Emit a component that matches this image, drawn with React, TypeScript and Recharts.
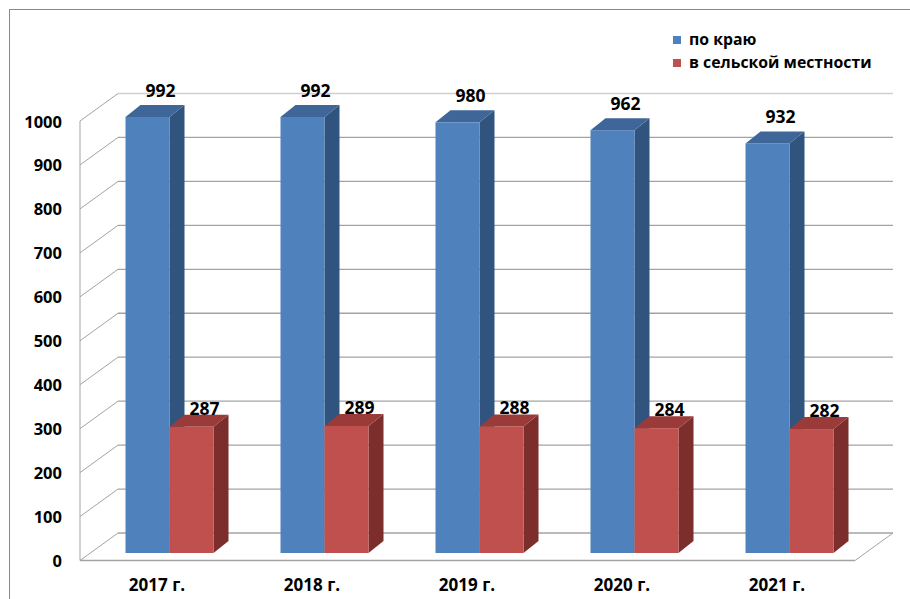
import React from 'react';
import { BarChart, Bar, XAxis, YAxis, CartesianGrid, LabelList, Legend } from 'recharts';

const categories = ['2017 г.', '2018 г.', '2019 г.', '2020 г.', '2021 г.'];
const regionValues = [992, 992, 980, 962, 932];
const ruralValues = [287, 289, 288, 284, 282];
const yTicks = [0, 100, 200, 300, 400, 500, 600, 700, 800, 900, 1000];
const seriesNames = ['по краю', 'в сельской местности'];

const data = categories.map((c, i) => ({ name: c, region: regionValues[i], rural: ruralValues[i] }));

const FONT = "'Open Sans', 'Noto Sans', sans-serif";
const W = 910;
const H = 599;
const PLOT_LEFT = 91.5;
const PLOT_RIGHT = 866.5;
const PLOT_TOP = 113.5;
const PLOT_BOTTOM = 553;
const WALL_FRONT_X = 80;
const WALL_BACK_X = 118;
const BACK_RIGHT_X = 893;
const FRONT_DY = 7.5;
const BACK_DY = -20;
const FLOOR_FRONT_RIGHT = 855;
const DEPTH_X = 15;
const DEPTH_Y = 12;
const GRID = '#A3A3A3';

const colors = {
  region: { front: '#4F81BD', top: '#3F6699', side: '#31547F' },
  rural: { front: '#C0504D', top: '#9A3B39', side: '#7B2E2C' },
};

const make3D = (c: { front: string; top: string; side: string }) => (props: any) => {
  const { x, y, width, height } = props;
  if (x == null || y == null) return null;
  const dx = DEPTH_X;
  const dy = DEPTH_Y;
  return (
    <g>
      <polygon points={`${x + width},${y} ${x + width + dx},${y - dy} ${x + width + dx},${y + height - dy} ${x + width},${y + height}`} fill={c.side} />
      <polygon points={`${x},${y} ${x + dx},${y - dy} ${x + width + dx},${y - dy} ${x + width},${y}`} fill={c.top} />
      <rect x={x} y={y} width={width} height={height} fill={c.front} />
    </g>
  );
};

const gridLine = (props: any) => {
  const y = props.y1;
  const isFloor = Math.abs(y - PLOT_BOTTOM) < 1;
  const isTop = Math.abs(y - PLOT_TOP) < 1;
  return (
    <g key={`g-${props.index}-${y}`}>
      <line x1={WALL_FRONT_X} y1={y + FRONT_DY} x2={WALL_BACK_X} y2={y + BACK_DY} stroke={GRID} strokeWidth={1} />
      <line x1={WALL_BACK_X} y1={y + BACK_DY} x2={BACK_RIGHT_X} y2={y + BACK_DY} stroke={isTop ? '#D0D0D0' : GRID} strokeWidth={1.3} />
      {isFloor && (
        <g>
          <line x1={WALL_FRONT_X} y1={y + FRONT_DY} x2={FLOOR_FRONT_RIGHT} y2={y + FRONT_DY} stroke={GRID} strokeWidth={1.3} />
          <line x1={FLOOR_FRONT_RIGHT} y1={y + FRONT_DY} x2={BACK_RIGHT_X} y2={y + BACK_DY} stroke={GRID} strokeWidth={1} />
          <line x1={WALL_FRONT_X} y1={y + FRONT_DY} x2={WALL_FRONT_X} y2={PLOT_TOP + FRONT_DY} stroke={GRID} strokeWidth={1} />
        </g>
      )}
    </g>
  );
};

const YTick = (props: any) => {
  const { y, payload } = props;
  return (
    <text x={62} y={y + FRONT_DY} textAnchor="end" dominantBaseline="central" fontFamily={FONT} fontWeight={700} fontSize={16.5} fill="#000">
      {payload.value}
    </text>
  );
};

const XTick = (props: any) => {
  const { x, payload } = props;
  return (
    <text x={x - 12} y={591} textAnchor="middle" fontFamily={FONT} fontWeight={700} fontSize={17} fill="#000">
      {payload.value}
    </text>
  );
};

const makeLabel = (offsetY: number) => (props: any) => {
  const { x, y, width, value } = props;
  return (
    <text x={x + width / 2 + 13} y={y + offsetY} textAnchor="middle" fontFamily={FONT} fontWeight={700} fontSize={17.5} fill="#000">
      {value}
    </text>
  );
};

const LegendContent = () => (
  <div style={{ fontFamily: FONT, fontWeight: 700, fontSize: 15.8, color: '#000', lineHeight: '23px' }}>
    {seriesNames.map((n, i) => (
      <div key={n} style={{ display: 'flex', alignItems: 'center', whiteSpace: 'nowrap' }}>
        <span style={{ display: 'inline-block', width: 8, height: 8, background: i === 0 ? colors.region.front : colors.rural.front, marginRight: 8 }} />
        {n}
      </div>
    ))}
  </div>
);

export default function App() {
  return (
    <div style={{ position: 'absolute', left: 0, top: 0, width: W, height: H, background: '#fff', overflow: 'hidden' }}>
      <div style={{ position: 'absolute', left: 9, top: 9, width: 1000, height: 1000, borderLeft: '1.5px solid #8A8A8A', borderTop: '1.5px solid #8A8A8A' }} />
      <BarChart
        width={W}
        height={H}
        data={data}
        margin={{ top: PLOT_TOP, right: W - PLOT_RIGHT, bottom: 0, left: 0 }}
        barSize={44}
        barGap={0}
        style={{ position: 'absolute', left: 0, top: 0 }}
      >
        <CartesianGrid vertical={false} horizontal={gridLine} stroke={GRID} />
        <XAxis dataKey="name" axisLine={false} tickLine={false} height={H - PLOT_BOTTOM} tick={<XTick />} interval={0} />
        <YAxis domain={[0, 1000]} ticks={yTicks} width={PLOT_LEFT} axisLine={false} tickLine={false} tick={<YTick />} interval={0} />
        <Legend
          layout="vertical"
          align="center"
          verticalAlign="middle"
          content={<LegendContent />}
          wrapperStyle={{ position: 'absolute', left: 673, top: 28, width: 235, height: 50 }}
        />
        <Bar dataKey="region" name={seriesNames[0]} fill={colors.region.front} shape={make3D(colors.region)} isAnimationActive={false}>
          <LabelList dataKey="region" content={makeLabel(-20)} />
        </Bar>
        <Bar dataKey="rural" name={seriesNames[1]} fill={colors.rural.front} shape={make3D(colors.rural)} isAnimationActive={false}>
          <LabelList dataKey="rural" content={makeLabel(-12)} />
        </Bar>
      </BarChart>
    </div>
  );
}
